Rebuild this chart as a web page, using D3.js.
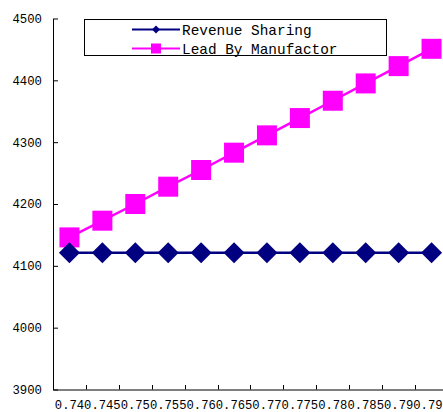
<!DOCTYPE html>
<html>
<head>
<meta charset="utf-8">
<script src="https://cdn.jsdelivr.net/npm/d3@7"></script>
<style>
html, body { margin: 0; padding: 0; background: #fff; overflow: hidden; }
svg { display: block; }
</style>
</head>
<body>
<div id="chart"></div>
<script>
const categories = ["0.74", "0.745", "0.75", "0.755", "0.76", "0.765", "0.77", "0.775", "0.78", "0.785", "0.79", "0.795"];
const revenueSharing = [4121, 4121, 4121, 4121, 4121, 4121, 4121, 4121, 4121, 4121, 4121, 4121];
const leadByManufactor = [4146, 4173, 4200, 4228, 4255, 4283, 4311, 4339, 4367, 4395, 4423, 4451];
const yTicks = [3900, 4000, 4100, 4200, 4300, 4400, 4500];
const seriesNames = ["Revenue Sharing", "Lead By Manufactor"];

const W = 443, H = 412;
const svg = d3.select("#chart").append("svg").attr("width", W).attr("height", H);

const x = d3.scaleBand().domain(categories).range([53, 448]).paddingInner(0).paddingOuter(0);
const y = d3.scaleLinear().domain([3900, 4500]).range([389.5, 18.5]);

const monoFont = "'Liberation Mono', 'DejaVu Sans Mono', monospace";

// Y axis
const yAxis = d3.axisLeft(y).tickValues(yTicks).tickSizeInner(-5).tickSizeOuter(0).tickPadding(11).tickFormat(d3.format("d"));
const gy = svg.append("g").attr("transform", "translate(53,0)").call(yAxis);
gy.selectAll("path, line").attr("stroke", "#000").attr("stroke-width", 1);
gy.selectAll("text").attr("font-family", monoFont).attr("font-size", "12.3px").attr("fill", "#000");

// X axis (labels at band centers)
const xAxis = d3.axisBottom(x).tickSize(0).tickPadding(10.8);
const gx = svg.append("g").attr("transform", "translate(0,389.5)").call(xAxis);
gx.select("path.domain").attr("stroke", "#000").attr("stroke-width", 1);
gx.selectAll("text").attr("font-family", monoFont).attr("font-size", "12.2px").attr("fill", "#000");

// X ticks at band boundaries
svg.append("g").selectAll("line").data(categories.slice(0, -1)).join("line")
  .attr("x1", d => Math.round(x(d) + x.bandwidth()) + 0.5)
  .attr("x2", d => Math.round(x(d) + x.bandwidth()) + 0.5)
  .attr("y1", 389.5).attr("y2", 385)
  .attr("stroke", "#000").attr("stroke-width", 1);

const cx = (d, i) => x(categories[i]) + x.bandwidth() / 2;

// Lead By Manufactor series (drawn first)
const lineLead = d3.line().x((d, i) => cx(d, i)).y(d => y(d));
svg.append("path").datum(leadByManufactor).attr("d", lineLead)
  .attr("fill", "none").attr("stroke", "#FF00FF").attr("stroke-width", 2.5);
const sq = 20;
svg.append("g").selectAll("rect").data(leadByManufactor).join("rect")
  .attr("x", (d, i) => cx(d, i) - sq / 2)
  .attr("y", d => y(d) - sq / 2)
  .attr("width", sq).attr("height", sq)
  .attr("fill", "#FF00FF");

// Revenue Sharing series
const lineRev = d3.line().x((d, i) => cx(d, i)).y(d => y(d));
svg.append("path").datum(revenueSharing).attr("d", lineRev)
  .attr("fill", "none").attr("stroke", "#000080").attr("stroke-width", 2.5);
const dm = 10.5;
svg.append("g").selectAll("path").data(revenueSharing).join("path")
  .attr("d", (d, i) => {
    const px = cx(d, i), py = y(d);
    return `M${px},${py - dm}L${px + dm},${py}L${px},${py + dm}L${px - dm},${py}Z`;
  })
  .attr("fill", "#000080");

// Legend
const lg = svg.append("g");
lg.append("rect").attr("x", 84.5).attr("y", 19.5).attr("width", 302).attr("height", 36)
  .attr("fill", "#fff").attr("stroke", "#000").attr("stroke-width", 1);
const rows = [
  { name: seriesNames[0], color: "#000080", shape: "diamond", yy: 29.5 },
  { name: seriesNames[1], color: "#FF00FF", shape: "square", yy: 48.5 }
];
rows.forEach(r => {
  lg.append("line").attr("x1", 132).attr("x2", 180).attr("y1", r.yy).attr("y2", r.yy)
    .attr("stroke", r.color).attr("stroke-width", 2);
  if (r.shape === "diamond") {
    const s = 4;
    lg.append("path").attr("d", `M156,${r.yy - s}L${156 + s},${r.yy}L156,${r.yy + s}L${156 - s},${r.yy}Z`).attr("fill", r.color);
  } else {
    lg.append("rect").attr("x", 151).attr("y", r.yy - 5).attr("width", 10).attr("height", 10).attr("fill", r.color);
  }
  lg.append("text").attr("x", 182).attr("y", r.yy).attr("dy", "0.35em")
    .attr("font-family", monoFont).attr("font-size", "14.4px").attr("fill", "#000")
    .text(r.name);
});
</script>
</body>
</html>
